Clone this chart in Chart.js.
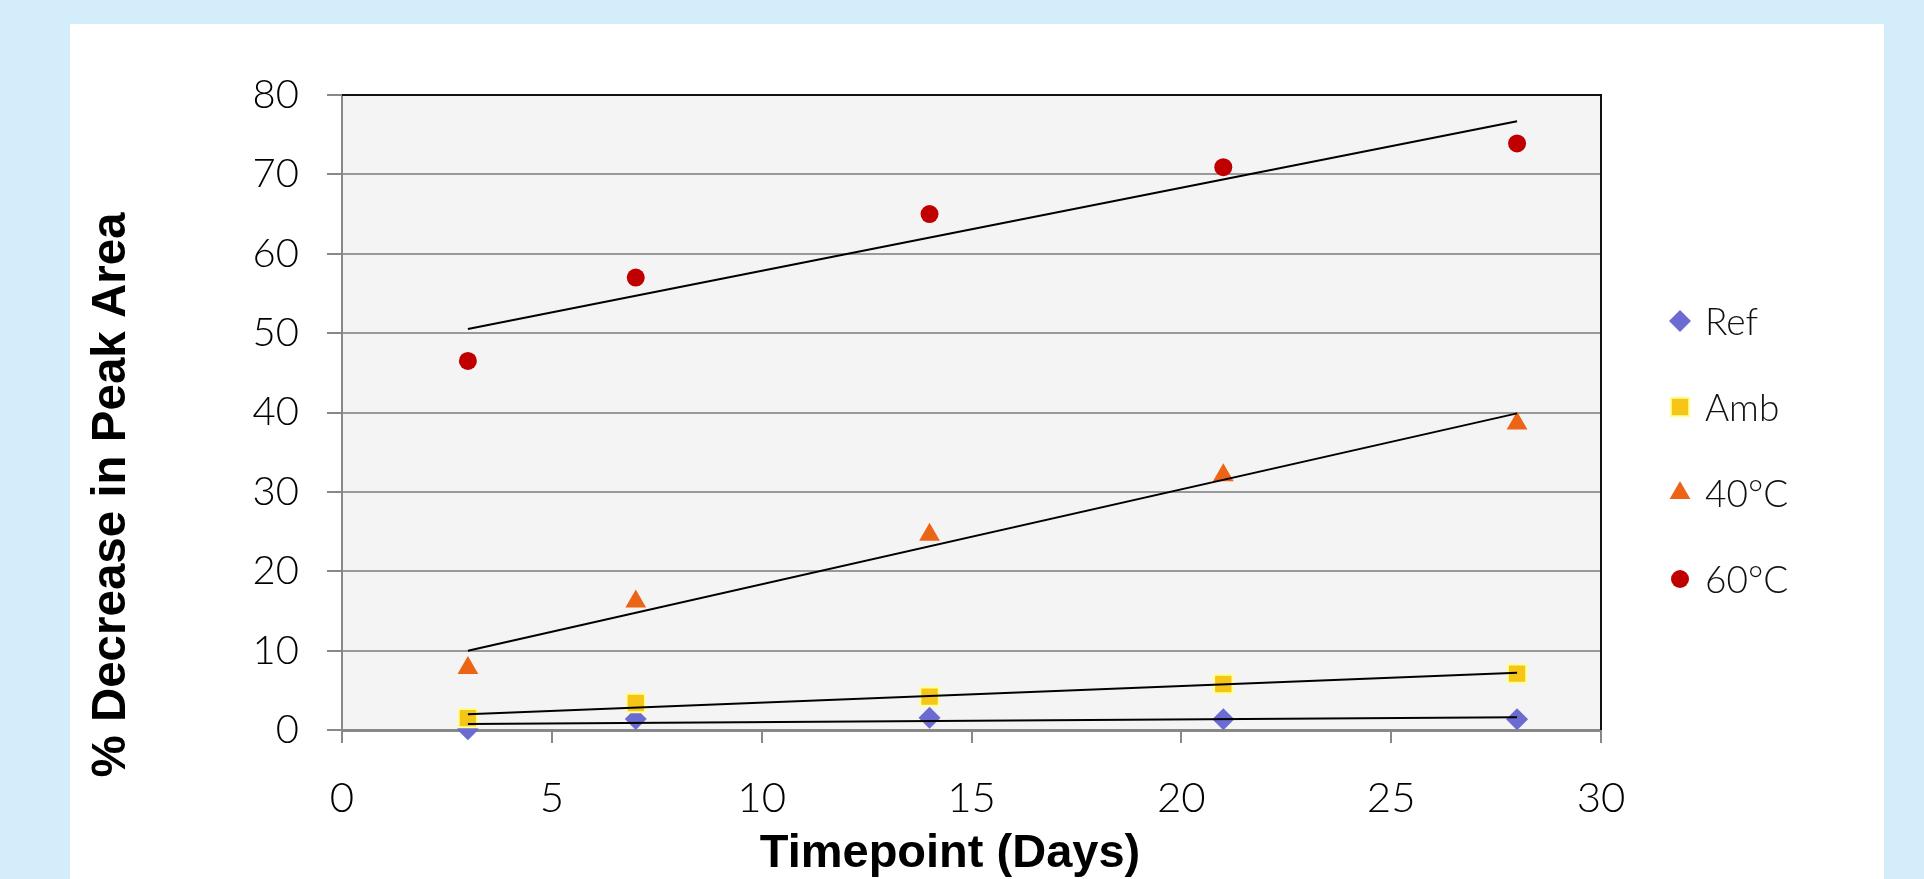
<!DOCTYPE html>
<html>
<head>
<meta charset="utf-8">
<script src="https://cdn.jsdelivr.net/npm/chart.js@4"></script>
<style>
  body { margin: 0; background: #D4EDFB; width: 1924px; height: 879px; overflow: hidden; position: relative; }
  .panel { position: absolute; left: 70px; top: 24px; width: 1814px; height: 855px; background: #fff; }
  #chart { position: absolute; left: 0; top: 0; }
</style>
</head>
<body>
<div class="panel"></div>
<canvas id="chart" width="1924" height="879"></canvas>
<script>
// data
const days = [3, 7, 14, 21, 28];
const refVals = [0.1, 1.4, 1.55, 1.35, 1.35];
const ambVals = [1.5, 3.4, 4.2, 5.8, 7.1];
const c40Vals = [7.8, 16.2, 24.6, 32.1, 38.6];
const c60Vals = [46.5, 57.0, 65.0, 70.9, 73.9];

const seriesNames = ["Ref", "Amb", "40°C", "60°C"];
const xTicks = [0, 5, 10, 15, 20, 25, 30];
const yTicks = [0, 10, 20, 30, 40, 50, 60, 70, 80];

// linear trendline (least squares) between first and last day
function trend(xs, ys) {
  const n = xs.length;
  const mx = xs.reduce((a, b) => a + b, 0) / n;
  const my = ys.reduce((a, b) => a + b, 0) / n;
  let sxy = 0, sxx = 0;
  xs.forEach((x, i) => { sxy += (x - mx) * (ys[i] - my); sxx += (x - mx) * (x - mx); });
  const k = sxy / sxx;
  const x0 = xs[0], x1 = xs[n - 1];
  return [{ x: x0, y: my + k * (x0 - mx) }, { x: x1, y: my + k * (x1 - mx) }];
}

const pts = vals => days.map((d, i) => ({ x: d, y: vals[i] }));

function trendSet(vals) {
  return {
    type: "line", data: trend(days, vals), isTrend: true,
    borderColor: "#000", borderWidth: 2, pointRadius: 0, order: 0, clip: false
  };
}

const plotBox = {
  id: "plotBox",
  beforeDatasetsDraw(chart) {
    const { ctx, chartArea: a } = chart;
    ctx.save();
    ctx.strokeStyle = "#111";
    ctx.lineWidth = 2;
    ctx.beginPath();
    ctx.moveTo(a.left, a.top);
    ctx.lineTo(a.right, a.top);
    ctx.lineTo(a.right, a.bottom);
    ctx.stroke();
    ctx.restore();
  },
  beforeDraw(chart) {
    const { ctx, chartArea: a } = chart;
    ctx.save();
    ctx.fillStyle = "#F4F4F4";
    ctx.fillRect(a.left, a.top, a.right - a.left, a.bottom - a.top);
    ctx.restore();
  }
};

// axis titles and the legend on the right
const extras = {
  id: "extras",
  afterDraw(chart) {
    const ctx = chart.ctx;
    ctx.save();
    ctx.fillStyle = "#000";
    ctx.font = "bold 47px 'Liberation Sans', Arial, sans-serif";
    ctx.textAlign = "center";
    ctx.textBaseline = "middle";
    ctx.fillText("Timepoint (Days)", 950, 854);

    ctx.translate(112, 495);
    ctx.rotate(-Math.PI / 2);
    ctx.font = "bold 47.5px 'Liberation Sans', Arial, sans-serif";
    ctx.fillText("% Decrease in Peak Area", 0, 0);
    ctx.restore();

    ctx.save();
    ctx.font = "300 37px Lato";
    ctx.textAlign = "left";
    ctx.textBaseline = "middle";
    let y = 321;
    chart.data.datasets.filter(ds => !ds.isTrend).forEach(ds => {
      ctx.fillStyle = ds.backgroundColor;
      ctx.strokeStyle = ds.borderColor;
      ctx.lineWidth = ds.borderWidth;
      Chart.helpers.drawPoint(ctx, {
        pointStyle: ds.pointStyle, radius: ds.pointRadius, rotation: 0, borderWidth: ds.borderWidth
      }, 1680, y);
      ctx.fillStyle = "#111";
      ctx.fillText(ds.label, 1705, y + 2);
      y += 86;
    });
    ctx.restore();
  }
};

new Chart(document.getElementById("chart"), {
  type: "scatter",
  data: {
    datasets: [
      trendSet(refVals), trendSet(ambVals), trendSet(c40Vals), trendSet(c60Vals),
      {
        label: seriesNames[0], data: pts(refVals), pointStyle: "rectRot", pointRadius: 11,
        backgroundColor: "#6B6BD1", borderColor: "#6B6BD1", borderWidth: 0, order: 4, clip: false
      },
      {
        label: seriesNames[1], data: pts(ambVals), pointStyle: "rect", pointRadius: 13,
        backgroundColor: "#F5C518", borderColor: "#FFFF99", borderWidth: 2, order: 3, clip: false
      },
      {
        label: seriesNames[2], data: pts(c40Vals), pointStyle: "triangle", pointRadius: 12,
        backgroundColor: "#EC6517", borderColor: "#EC6517", borderWidth: 0, order: 2, clip: false
      },
      {
        label: seriesNames[3], data: pts(c60Vals), pointStyle: "circle", pointRadius: 9,
        backgroundColor: "#C00000", borderColor: "#C00000", borderWidth: 0, order: 1, clip: false
      }
    ]
  },
  options: {
    responsive: false,
    animation: false,
    layout: { padding: { left: 0, right: 323, top: 95, bottom: 0 } },
    plugins: { legend: { display: false }, tooltip: { enabled: false } },
    elements: { point: { hoverRadius: 0 } },
    scales: {
      x: {
        type: "linear", min: 0, max: 30,
        afterBuildTicks: s => { s.ticks = xTicks.map(v => ({ value: v })); },
        afterFit: s => { s.height = 149; },
        grid: { drawOnChartArea: false, tickLength: 13, color: "#888", lineWidth: 2 },
        border: { color: "#888", width: 3 },
        ticks: { color: "#000", font: { family: "Lato", weight: "300", size: 42 }, padding: 30, maxRotation: 0 }
      },
      y: {
        type: "linear", min: 0, max: 80,
        afterBuildTicks: s => { s.ticks = yTicks.map(v => ({ value: v })); },
        afterFit: s => { s.width = 342; },
        grid: { color: "#999", lineWidth: 2, tickLength: 15, tickColor: "#888" },
        border: { color: "#888", width: 2 },
        ticks: { color: "#000", font: { family: "Lato", weight: "300", size: 40 }, padding: 28 }
      }
    }
  },
  plugins: [plotBox, extras]
});
</script>
</body>
</html>
